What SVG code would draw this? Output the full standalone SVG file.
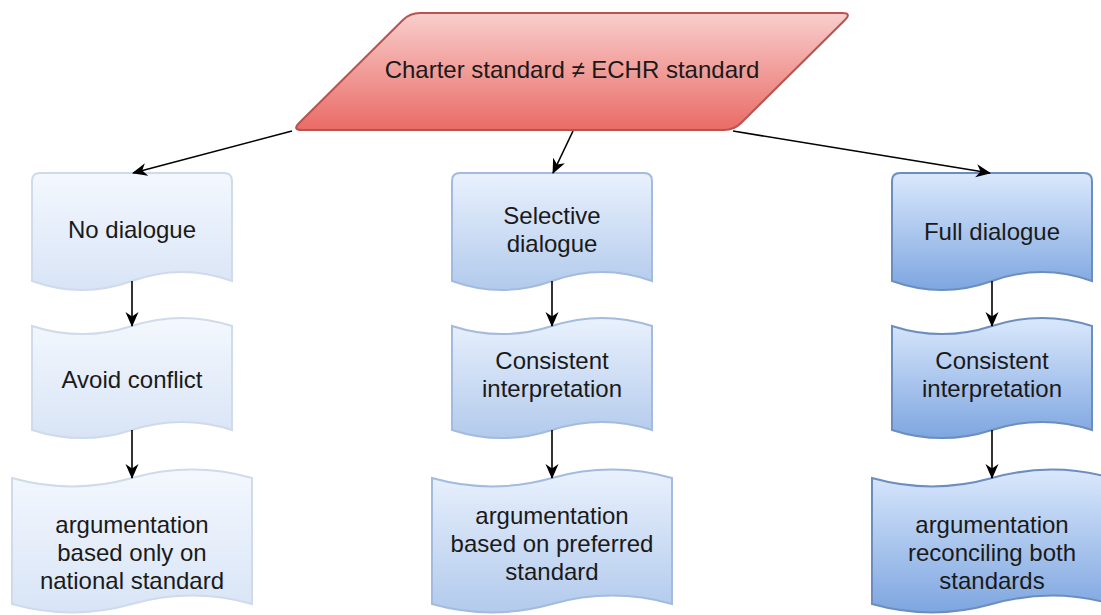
<svg xmlns="http://www.w3.org/2000/svg" width="1101" height="615" viewBox="0 0 1101 615">
  <style>
    .lbl { font-family: "Liberation Sans", Arial, sans-serif; font-size: 24px; fill: #1a1a1a; text-anchor: middle; }
    .edge { fill: none; stroke: #000; stroke-width: 1.6; marker-end: url(#arrow); }
    .pale { fill: url(#gPale); stroke: #cfdbeb; stroke-width: 2; }
    .mid { fill: url(#gMid); stroke: #a3bbdf; stroke-width: 2; }
    .deep { fill: url(#gDeep); stroke: #6c8ebf; stroke-width: 2; }
  </style>
  <defs>
    <linearGradient id="gRed" x1="0" y1="0" x2="0" y2="1">
      <stop offset="0" stop-color="#f8cecc"/>
      <stop offset="1" stop-color="#ea6b66"/>
    </linearGradient>
    <linearGradient id="gPale" x1="0" y1="0" x2="0" y2="1">
      <stop offset="0" stop-color="#f4f8fe"/>
      <stop offset="1" stop-color="#d8e4f6"/>
    </linearGradient>
    <linearGradient id="gMid" x1="0" y1="0" x2="0" y2="1">
      <stop offset="0" stop-color="#e9f1fd"/>
      <stop offset="1" stop-color="#b2caec"/>
    </linearGradient>
    <linearGradient id="gDeep" x1="0" y1="0" x2="0" y2="1">
      <stop offset="0" stop-color="#dae8fc"/>
      <stop offset="1" stop-color="#7ea6e0"/>
    </linearGradient>
    <marker id="arrow" viewBox="0 0 15 14" markerUnits="userSpaceOnUse" markerWidth="15" markerHeight="14" refX="14" refY="7" orient="auto">
      <path d="M0,0.5 L15,7 L0,13.5 L4.5,7 Z" fill="#000"/>
    </marker>
  </defs>

  <!-- decision: parallelogram with rounded corners -->
  <g id="charter">
    <path d="M420,13 L842,13 Q852,13 844.9,20 L741.1,123 Q734,130 724,130 L302,130 Q292,130 299.1,123 L402.9,20 Q410,13 420,13 Z" fill="url(#gRed)" stroke="#b85450" stroke-width="2"/>
    <text class="lbl" x="572" y="78">Charter standard ≠ ECHR standard</text>
  </g>

  <!-- column 1: no dialogue -->
  <g id="no-dialogue">
    <path class="pale" d="M32,181 Q32,173 40,173 L224,173 Q232,173 232,181 L232,281 Q182,263 132,281 Q82,299 32,281 Z"/>
    <text class="lbl" x="132" y="238">No dialogue</text>
  </g>
  <g id="avoid-conflict">
    <path class="pale" d="M32,326 Q82,342.2 132,326 Q182,309.8 232,326 L232,430 Q182,413.8 132,430 Q82,446.2 32,430 Z"/>
    <text class="lbl" x="132" y="388">Avoid conflict</text>
  </g>
  <g id="national-standard">
    <path class="pale" d="M12,478 Q72,494.8 132,478 Q192,461.2 252,478 L252,604 Q192,587.2 132,604 Q72,620.8 12,604 Z"/>
    <text class="lbl" x="132" y="533">argumentation</text>
    <text class="lbl" x="132" y="561">based only on</text>
    <text class="lbl" x="132" y="589">national standard</text>
  </g>

  <!-- column 2: selective dialogue -->
  <g id="selective-dialogue">
    <path class="mid" d="M452,181 Q452,173 460,173 L644,173 Q652,173 652,181 L652,281 Q602,263 552,281 Q502,299 452,281 Z"/>
    <text class="lbl" x="552" y="224">Selective</text>
    <text class="lbl" x="552" y="252">dialogue</text>
  </g>
  <g id="consistent-2">
    <path class="mid" d="M452,326 Q502,342.2 552,326 Q602,309.8 652,326 L652,430 Q602,413.8 552,430 Q502,446.2 452,430 Z"/>
    <text class="lbl" x="552" y="369">Consistent</text>
    <text class="lbl" x="552" y="397">interpretation</text>
  </g>
  <g id="preferred-standard">
    <path class="mid" d="M432,478 Q492,494.8 552,478 Q612,461.2 672,478 L672,604 Q612,587.2 552,604 Q492,620.8 432,604 Z"/>
    <text class="lbl" x="552" y="524">argumentation</text>
    <text class="lbl" x="552" y="552">based on preferred</text>
    <text class="lbl" x="552" y="580">standard</text>
  </g>

  <!-- column 3: full dialogue -->
  <g id="full-dialogue">
    <path class="deep" d="M892,181 Q892,173 900,173 L1084,173 Q1092,173 1092,181 L1092,281 Q1042,263 992,281 Q942,299 892,281 Z"/>
    <text class="lbl" x="992" y="240">Full dialogue</text>
  </g>
  <g id="consistent-3">
    <path class="deep" d="M892,326 Q942,342.2 992,326 Q1042,309.8 1092,326 L1092,430 Q1042,413.8 992,430 Q942,446.2 892,430 Z"/>
    <text class="lbl" x="992" y="369">Consistent</text>
    <text class="lbl" x="992" y="397">interpretation</text>
  </g>
  <g id="reconciling-standards">
    <path class="deep" d="M872,478 Q932,494.8 992,478 Q1052,461.2 1112,478 L1112,604 Q1052,587.2 992,604 Q932,620.8 872,604 Z"/>
    <text class="lbl" x="992" y="533">argumentation</text>
    <text class="lbl" x="992" y="561">reconciling both</text>
    <text class="lbl" x="992" y="589">standards</text>
  </g>

  <!-- connectors -->
  <g id="connectors">
    <line class="edge" x1="292" y1="131" x2="133" y2="173"/>
    <line class="edge" x1="573" y1="131" x2="553" y2="173"/>
    <line class="edge" x1="733" y1="131" x2="990" y2="173"/>
    <line class="edge" x1="132" y1="281" x2="132" y2="326"/>
    <line class="edge" x1="132" y1="430" x2="132" y2="478"/>
    <line class="edge" x1="552" y1="281" x2="552" y2="326"/>
    <line class="edge" x1="552" y1="430" x2="552" y2="478"/>
    <line class="edge" x1="992" y1="281" x2="992" y2="326"/>
    <line class="edge" x1="992" y1="430" x2="992" y2="478"/>
  </g>
</svg>
